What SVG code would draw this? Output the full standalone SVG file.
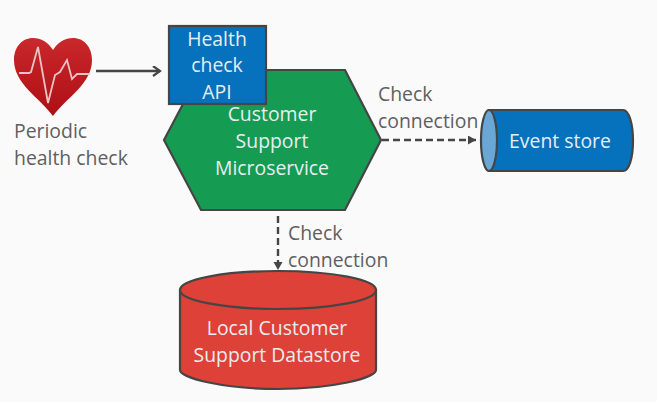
<svg xmlns="http://www.w3.org/2000/svg" width="657" height="402" viewBox="0 0 657 402">
<style>
text{font-family:"Open Sans","Noto Sans",sans-serif;font-size:19.4px}
.d{fill:#5f5f5f}.l{fill:#e6eef2;text-anchor:middle}
.s{stroke:#454545;stroke-width:2.2}
.c{fill:none;stroke:#454545;stroke-width:2.4}
</style>
<defs>
<linearGradient id="hg" x1="0" y1="0" x2="0" y2="1"><stop offset="0" stop-color="#c9282c"/><stop offset="1" stop-color="#ad0f14"/></linearGradient>
<marker id="o" markerWidth="12" markerHeight="12" refX="9" refY="5" orient="auto" markerUnits="userSpaceOnUse"><path d="M2 0L9 5L2 10" fill="none" stroke="#454545" stroke-width="2.2"/></marker>
<marker id="f" markerWidth="10" markerHeight="10" refX="8" refY="4.500" orient="auto" markerUnits="userSpaceOnUse"><path d="M0 0L8 4.500L0 9z" fill="#454545"/></marker>
</defs>
<rect width="657" height="402" fill="#fafafa"/>
<g id="connectors">
<path class="c" d="M96 71H160" marker-end="url(#o)"/>
<path class="c" d="M382 140H476" stroke-dasharray="7 4" marker-end="url(#f)"/>
<path class="c" d="M278 216V270" stroke-dasharray="7 4" marker-end="url(#f)"/>
</g>
<g id="heart">
<path d="M53 50C48 42 41 38 33 38C22 38 14 47 14 60C14 84 40 98 53 116C66 98 92 84 92 60C92 47 84 38 73 38C65 38 58 42 53 50Z" fill="url(#hg)"/>
<path d="M19 73H29L31 72L38 47L48 103L55 75L60 72L67 60L72 79L77 74H90" fill="none" stroke="#eac4c4" stroke-width="1.8"/>
<text class="d" x="14" y="138">Periodic</text>
<text class="d" x="14" y="165">health check</text>
</g>
<g id="microservice">
<path class="s" d="M201 70H345L381 140L345 210H201L164 140Z" fill="#169b53"/>
<text class="l" x="272" y="121">Customer</text>
<text class="l" x="272" y="148">Support</text>
<text class="l" x="272" y="175">Microservice</text>
</g>
<g id="api">
<rect class="s" x="169" y="26" width="97" height="78" fill="#0671bd"/>
<text class="l" x="217" y="46">Health</text>
<text class="l" x="217" y="72">check</text>
<text class="l" x="217" y="99">API</text>
</g>
<g id="event-store">
<path class="s" d="M489 110H623C629 110 633 124 633 141C633 158 629 171 623 171H489Z" fill="#0671bd"/>
<ellipse class="s" cx="489" cy="140.500" rx="8" ry="30.500" fill="#69a8d6"/>
<text class="l" x="560" y="148">Event store</text>
</g>
<g id="datastore">
<path class="s" d="M180 290V370C180 378 224 389 278 389C332 389 376 378 376 370V290Z" fill="#de4137"/>
<ellipse class="s" cx="278" cy="290" rx="98" ry="19" fill="#de4137"/>
<text class="l" x="277" y="335">Local Customer</text>
<text class="l" x="277" y="362">Support Datastore</text>
</g>
<g id="labels">
<text class="d" x="378" y="101">Check</text>
<text class="d" x="378" y="128">connection</text>
<text class="d" x="288" y="240">Check</text>
<text class="d" x="288" y="267">connection</text>
</g>
</svg>
